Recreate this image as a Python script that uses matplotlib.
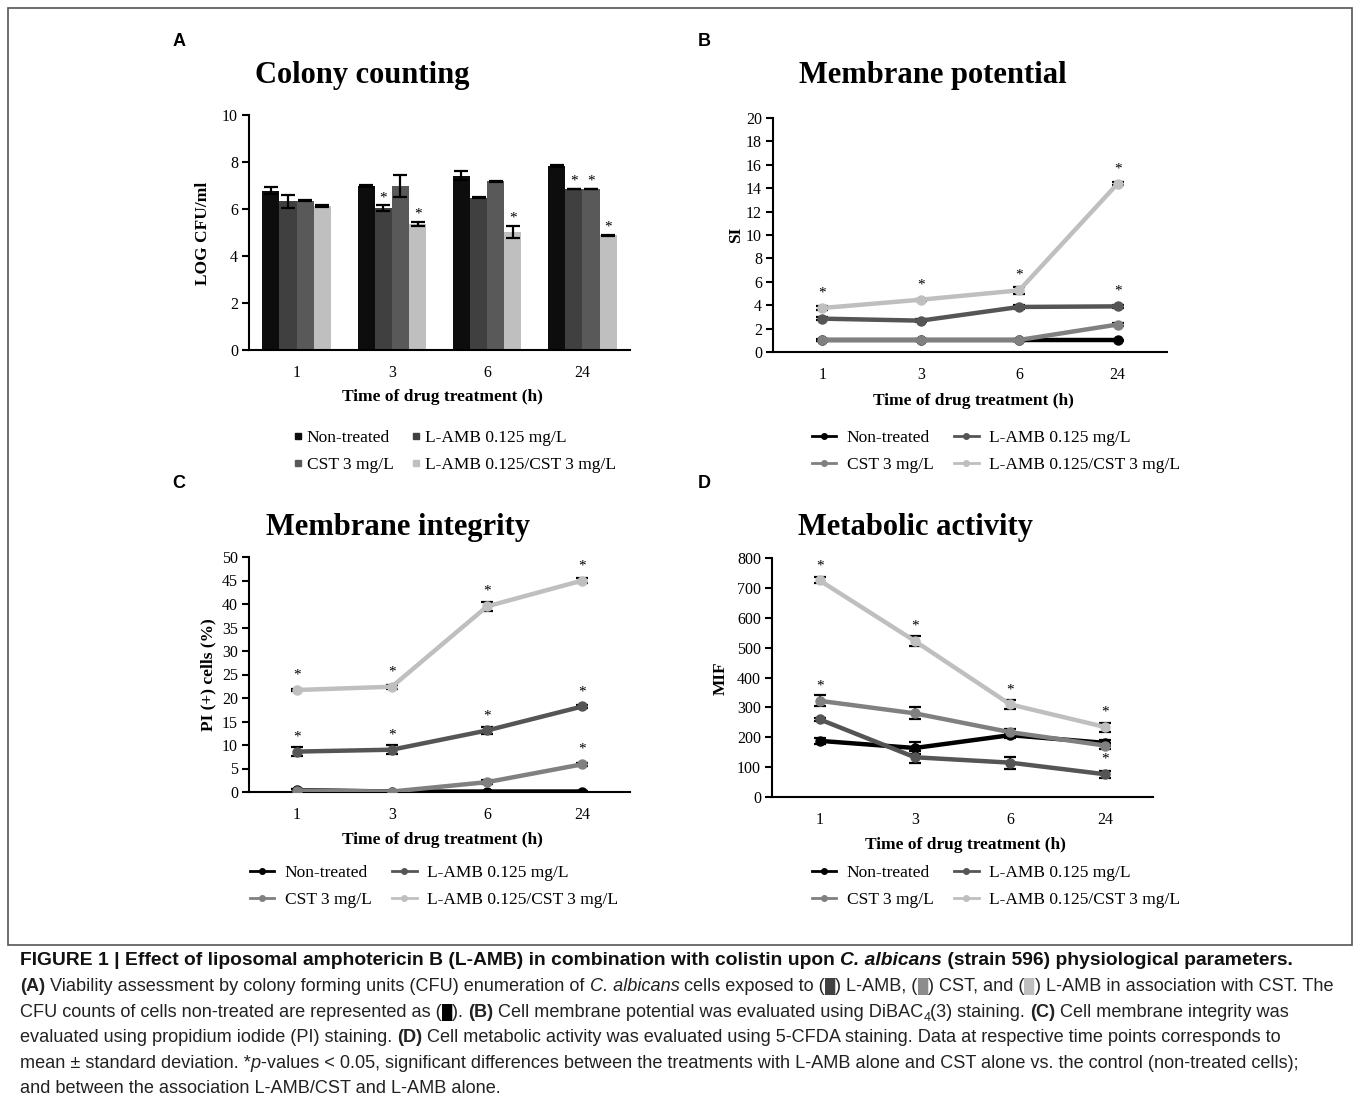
import matplotlib
matplotlib.use('Agg')
import matplotlib.pyplot as plt
from matplotlib.lines import Line2D
from matplotlib.patches import Rectangle
import numpy as np

# ---- data ----
times = ['1', '3', '6', '24']
labels = ['Non-treated', 'L-AMB 0.125 mg/L', 'CST 3 mg/L', 'L-AMB 0.125/CST 3 mg/L']
colors_bar = ['#0d0d0d', '#404040', '#595959', '#bfbfbf']
colors_line = ['#000000', '#555555', '#808080', '#bfbfbf']

# A - colony counting (log CFU/ml)
cfu_mean = [[6.77, 6.98, 7.42, 7.83],
            [6.32, 6.03, 6.48, 6.85],
            [6.36, 6.98, 7.18, 6.85],
            [6.13, 5.36, 5.02, 4.88]]
cfu_err = [[0.15, 0.04, 0.2, 0.03],
           [0.27, 0.12, 0.02, 0.02],
           [0.02, 0.47, 0.03, 0.02],
           [0.03, 0.08, 0.26, 0.02]]
cfu_star = [[0, 0, 0, 0], [0, 1, 0, 1], [0, 0, 0, 1], [0, 1, 1, 1]]

# B - membrane potential (SI)
si_mean = [[1.0, 1.0, 1.0, 1.0],
           [2.85, 2.68, 3.85, 3.9],
           [1.03, 1.03, 1.03, 2.35],
           [3.76, 4.47, 5.27, 14.4]]
si_err = [[0.05, 0.05, 0.05, 0.05],
          [0.15, 0.15, 0.15, 0.1],
          [0.1, 0.1, 0.1, 0.15],
          [0.2, 0.1, 0.3, 0.15]]
si_star = [[0, 0, 0, 0], [0, 0, 1, 1], [0, 0, 0, 0], [1, 1, 1, 1]]

# C - membrane integrity (PI+ cells %)
pi_mean = [[0.4, 0.1, 0.1, 0.1],
           [8.6, 9.0, 13.1, 18.2],
           [0.3, 0.1, 2.1, 5.9],
           [21.7, 22.4, 39.5, 45.0]]
pi_err = [[0.3, 0.2, 0.1, 0.1],
          [0.9, 1.0, 0.8, 0.3],
          [0.3, 0.2, 0.5, 0.3],
          [0.3, 0.4, 1.0, 0.5]]
pi_star = [[0, 0, 0, 0], [1, 1, 1, 1], [0, 0, 0, 1], [1, 1, 1, 1]]

# D - metabolic activity (MIF)
mif_mean = [[188, 164, 207, 181],
            [260, 133, 115, 76],
            [322, 280, 217, 172],
            [725, 522, 310, 234]]
mif_err = [[10, 20, 8, 10],
           [5, 20, 20, 12],
           [18, 20, 10, 10],
           [10, 18, 15, 15]]
mif_star = [[0, 0, 0, 0], [0, 0, 0, 1], [1, 0, 0, 0], [1, 1, 1, 1]]

W, H = 1357, 1105
SERIF = 'Liberation Serif'

fig = plt.figure(figsize=(W / 100, H / 100), dpi=100)


def fx(x):
    return x / W


def fy(y):
    return 1 - y / H


def make_ax(l, t, r, b):
    return fig.add_axes([fx(l), fy(b), (r - l) / W, (b - t) / H])


def style_ax(ax, ymax, step):
    for s in ['top', 'right']:
        ax.spines[s].set_visible(False)
    for s in ['left', 'bottom']:
        ax.spines[s].set_linewidth(1.5)
    ax.set_xlim(-0.5, 3.5)
    ax.set_ylim(0, ymax)
    ax.set_yticks(np.arange(0, ymax + step / 2, step))
    ax.set_xticks(range(4))
    ax.set_xticklabels(times)
    ax.tick_params(axis='x', length=0, pad=11)
    ax.tick_params(axis='y', length=5, width=1.5, pad=3)
    for lb in ax.get_xticklabels() + ax.get_yticklabels():
        lb.set_fontfamily(SERIF)
        lb.set_fontsize(11.5)


def line_panel(ax, means, errs, stars):
    x = np.arange(4)
    for k in range(4):
        ax.errorbar(x, means[k], yerr=errs[k], color=colors_line[k], lw=3.2,
                    marker='o', markersize=6.5, ecolor='black', elinewidth=1.6,
                    capsize=4, capthick=1.6, zorder=3 + k)
        for i in range(4):
            if stars[k][i]:
                ax.annotate('*', (x[i], means[k][i]), xytext=(0, 6),
                            textcoords='offset points', ha='center', va='bottom',
                            fontsize=11, family=SERIF)


def text_px(x, y, s, **kw):
    fig.text(fx(x), fy(y), s, **kw)


# ---- panel A ----
axA = make_ax(249, 115, 630, 350)
xg = np.arange(4)
bw = 0.18
for k in range(4):
    xs = xg + (k - 1.5) * bw
    axA.bar(xs, cfu_mean[k], bw, color=colors_bar[k], yerr=cfu_err[k],
            error_kw=dict(ecolor='black', elinewidth=1.6, capsize=5, capthick=1.6))
    for i in range(4):
        if cfu_star[k][i]:
            axA.annotate('*', (xs[i], cfu_mean[k][i] + cfu_err[k][i]), xytext=(0, 1),
                         textcoords='offset points', ha='center', va='bottom',
                         fontsize=11, family=SERIF)
style_ax(axA, 10, 2)

# ---- panel B ----
axB = make_ax(773, 118, 1167, 352)
line_panel(axB, si_mean, si_err, si_star)
style_ax(axB, 20, 2)

# ---- panel C ----
axC = make_ax(249, 557, 630, 792)
line_panel(axC, pi_mean, pi_err, pi_star)
style_ax(axC, 50, 5)

# ---- panel D ----
axD = make_ax(772, 558, 1153, 797)
line_panel(axD, mif_mean, mif_err, mif_star)
style_ax(axD, 800, 100)

# titles, letters, axis labels
tkw = dict(family=SERIF, fontweight='bold', ha='center', va='center')
text_px(362, 76, 'Colony counting', fontsize=22, **tkw)
text_px(933, 76, 'Membrane potential', fontsize=22, **tkw)
text_px(398, 527, 'Membrane integrity', fontsize=22, **tkw)
text_px(915, 527, 'Metabolic activity', fontsize=22, **tkw)

lkw = dict(family='Liberation Sans', fontweight='bold', fontsize=13, ha='center', va='center')
text_px(179, 41, 'A', **lkw)
text_px(704, 41, 'B', **lkw)
text_px(179, 483, 'C', **lkw)
text_px(704, 483, 'D', **lkw)

text_px(442, 397, 'Time of drug treatment (h)', fontsize=12.5, **tkw)
text_px(973, 401, 'Time of drug treatment (h)', fontsize=12.5, **tkw)
text_px(442, 840, 'Time of drug treatment (h)', fontsize=12.5, **tkw)
text_px(965, 845, 'Time of drug treatment (h)', fontsize=12.5, **tkw)
text_px(203, 233, 'LOG CFU/ml', fontsize=12.5, rotation=90, **tkw)
text_px(736, 235, 'SI', fontsize=12.5, rotation=90, **tkw)
text_px(208, 675, 'PI (+) cells (%)', fontsize=12.5, rotation=90, **tkw)
text_px(721, 678, 'MIF', fontsize=12.5, rotation=90, **tkw)

# legends (order fills columns: row1 Non-treated / L-AMB, row2 CST / combo)
order = [0, 2, 1, 3]
leg_font = dict(family=SERIF, size=12.5)
hA = [Line2D([], [], marker='s', ls='none', color=colors_bar[k], markersize=4) for k in order]
fig.legend(hA, [labels[k] for k in order], loc='upper left', bbox_to_anchor=(fx(293), fy(430)),
           ncol=2, frameon=False, borderpad=0, borderaxespad=0, prop=leg_font,
           handlelength=0.6, handletextpad=0.2, columnspacing=1.0, labelspacing=0.6)


def line_legend(x, y):
    hh = [Line2D([], [], marker='o', color=colors_line[k], lw=2, markersize=4) for k in order]
    fig.legend(hh, [labels[k] for k in order], loc='upper left', bbox_to_anchor=(fx(x), fy(y)),
               ncol=2, frameon=False, borderpad=0, borderaxespad=0, prop=leg_font,
               handlelength=1.4, handletextpad=0.6, columnspacing=1.2, labelspacing=0.6)


line_legend(812, 430)
line_legend(250, 865)
line_legend(812, 865)

# frame around the figure panels
fig.add_artist(Rectangle((fx(8), fy(945)), (1352 - 8) / W, (945 - 8) / H, transform=fig.transFigure,
                         fill=False, edgecolor='#555555', lw=1.2))

# ---- caption ----
renderer = fig.canvas.get_renderer()
CAP = ['Liberation Sans', 'DejaVu Sans']
body = '#222222'
SQ = '\u2588'

B = dict(fontweight='bold')
I = dict(style='italic')
BT = dict(fontweight='bold', color='#111111')
title_line = (965, [('FIGURE 1 | Effect of liposomal amphotericin B (L-AMB) in combination with colistin upon ', BT),
                    ('C. albicans', dict(BT, style='italic')),
                    (' (strain 596) physiological parameters.', BT)])
body_lines = [
    (991, [('(A)', B), (' Viability assessment by colony forming units (CFU) enumeration of ', {}),
           ('C. albicans', I), (' cells exposed to (', {}), (SQ, dict(color=colors_bar[1], rel=0.8)),
           (') L-AMB, (', {}), (SQ, dict(color='#8c8c8c', rel=0.8)), (') CST, and (', {}),
           (SQ, dict(color=colors_bar[3], rel=0.8)), (') L-AMB in association with CST. The', {})]),
    (1017, [('CFU counts of cells non-treated are represented as (', {}), (SQ, dict(color='#000000', rel=0.8)),
            ('). ', {}), ('(B)', B), (' Cell membrane potential was evaluated using DiBAC', {}),
            ('4', dict(rel=0.7, dy=4)), ('(3) staining. ', {}), ('(C)', B),
            (' Cell membrane integrity was', {})]),
    (1042, [('evaluated using propidium iodide (PI) staining. ', {}), ('(D)', B),
            (' Cell metabolic activity was evaluated using 5-CFDA staining. Data at respective time points corresponds to', {})]),
    (1068, [('mean \u00b1 standard deviation. *', {}), ('p', I),
            ('-values < 0.05, significant differences between the treatments with L-AMB alone and CST alone vs. the control (non-treated cells);', {})]),
    (1093, [('and between the association L-AMB/CST and L-AMB alone.', {})]),
]


def draw_runs(y, runs, size, x0=20, keep=True):
    x = x0
    for txt, kw in runs:
        d = dict(family=CAP, color=body, va='baseline')
        d.update(kw)
        dy = d.pop('dy', 0)
        rel = d.pop('rel', 1.0)
        d['fontsize'] = size * rel
        t = fig.text(fx(x), fy(y + dy), txt, **d)
        x += t.get_window_extent(renderer).width
        if not keep:
            t.remove()
    return x - x0


# fit caption sizes so lines span the same width as in the source
w_body = draw_runs(body_lines[0][0], body_lines[0][1], 12, keep=False)
body_size = 12 * 1315 / w_body
w_title = draw_runs(title_line[0], title_line[1], 12, keep=False)
title_size = min(12 * 1268 / w_title, body_size * 1.08)

draw_runs(title_line[0], title_line[1], title_size)
for y, runs in body_lines:
    draw_runs(y, runs, body_size)

fig.savefig('out.png', dpi=100)
